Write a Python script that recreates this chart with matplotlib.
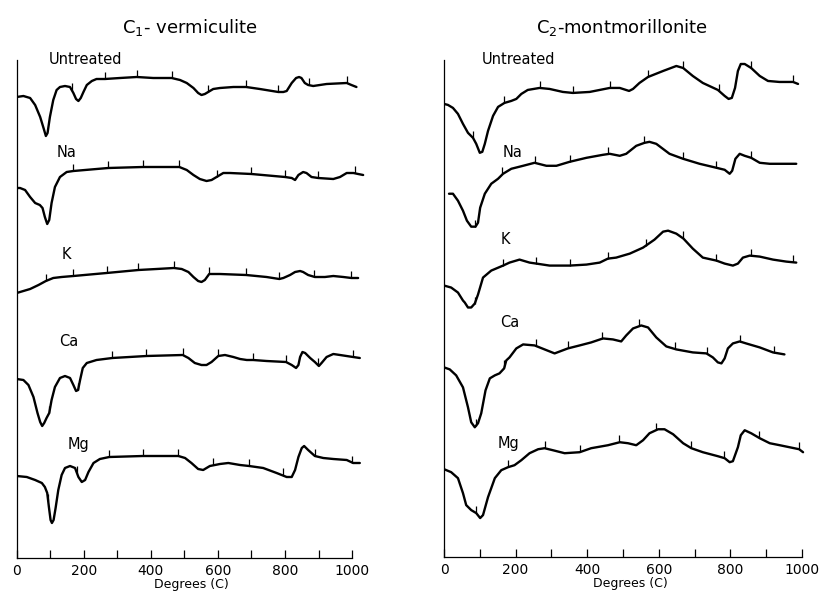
import matplotlib
matplotlib.use("Agg")
import matplotlib.pyplot as plt
import numpy as np

# DTA curves: temperature (C) and deflection (arbitrary units)
verm_untreated_t = [0, 20, 40, 55, 70, 80, 87, 92, 99, 109, 119, 129, 144, 159, 169, 177, 184, 191, 199, 209, 224, 238, 263, 308, 358, 407, 462, 487, 507, 527, 541, 551, 561, 571, 586, 606, 646, 684, 725, 780, 795, 805, 820, 833, 842, 849, 859, 869, 884, 924, 984, 998, 1013]
verm_untreated_y = [461, 462, 460, 453, 441, 430, 422, 425, 441, 458, 468, 471, 472, 471, 465, 459, 457, 460, 466, 473, 477, 479, 479, 480, 481, 480, 480, 478, 475, 470, 465, 463, 464, 466, 469, 470, 471, 471, 469, 466, 466, 467, 475, 480, 481, 480, 475, 473, 472, 474, 475, 473, 471]
verm_na_t = [0, 10, 25, 40, 55, 69, 77, 84, 91, 97, 104, 114, 129, 149, 169, 273, 376, 485, 507, 527, 546, 566, 581, 596, 616, 636, 700, 800, 820, 830, 840, 854, 864, 879, 899, 944, 964, 984, 1004, 1018, 1033]
verm_na_y = [370, 370, 368, 361, 355, 353, 350, 341, 334, 338, 355, 371, 381, 386, 387, 390, 391, 391, 388, 383, 379, 377, 378, 381, 385, 385, 384, 381, 380, 378, 383, 386, 385, 381, 380, 379, 381, 385, 385, 384, 383]
verm_k_t = [0, 10, 40, 65, 87, 109, 134, 169, 268, 363, 417, 469, 492, 512, 527, 541, 551, 561, 574, 606, 684, 745, 783, 795, 815, 830, 845, 854, 869, 889, 919, 944, 974, 998, 1018]
verm_k_y = [265, 266, 269, 273, 277, 280, 281, 282, 285, 288, 289, 290, 289, 286, 281, 277, 276, 278, 284, 284, 283, 281, 279, 280, 283, 286, 287, 286, 283, 281, 281, 282, 281, 280, 280]
verm_ca_t = [0, 20, 35, 50, 62, 70, 76, 82, 89, 97, 104, 114, 129, 144, 159, 169, 177, 183, 189, 197, 209, 238, 285, 387, 495, 512, 531, 551, 566, 581, 601, 621, 646, 666, 686, 705, 745, 803, 820, 833, 840, 845, 852, 860, 875, 889, 901, 909, 924, 944, 964, 1003, 1023]
verm_ca_y = [179, 178, 173, 161, 145, 136, 132, 135, 140, 145, 158, 171, 180, 182, 180, 173, 167, 168, 178, 190, 195, 198, 200, 202, 203, 200, 195, 193, 193, 196, 202, 203, 201, 199, 198, 198, 197, 196, 193, 190, 193, 201, 206, 205, 200, 196, 192, 195, 201, 204, 203, 201, 200]
verm_mg_t = [0, 30, 55, 75, 84, 91, 96, 101, 105, 110, 116, 124, 134, 144, 159, 174, 184, 194, 204, 214, 229, 248, 276, 376, 482, 502, 521, 541, 556, 576, 606, 631, 666, 693, 735, 775, 805, 820, 830, 840, 850, 857, 869, 889, 914, 944, 984, 1003, 1023]
verm_mg_y = [82, 81, 78, 75, 71, 65, 51, 38, 35, 38, 50, 68, 83, 90, 92, 90, 81, 76, 78, 86, 95, 99, 101, 102, 102, 100, 95, 89, 88, 92, 94, 95, 93, 92, 90, 85, 81, 81, 88, 101, 110, 112, 108, 102, 100, 99, 98, 95, 95]

mont_untreated_t = [0, 11, 25, 39, 53, 67, 81, 90, 100, 107, 114, 123, 137, 151, 169, 188, 202, 216, 234, 267, 295, 332, 360, 407, 463, 491, 517, 528, 546, 570, 612, 649, 668, 695, 723, 765, 784, 795, 804, 813, 821, 829, 840, 858, 882, 905, 937, 975, 989]
mont_untreated_y = [454, 453, 450, 444, 434, 425, 420, 414, 405, 406, 414, 427, 442, 451, 455, 457, 459, 464, 468, 470, 469, 466, 465, 466, 470, 470, 467, 469, 475, 481, 487, 492, 490, 482, 475, 468, 462, 459, 460, 470, 487, 494, 494, 490, 482, 477, 476, 476, 474]
mont_na_t = [14, 25, 39, 53, 64, 76, 88, 95, 101, 114, 132, 151, 165, 188, 221, 253, 286, 314, 351, 398, 444, 463, 491, 509, 537, 560, 574, 593, 630, 668, 714, 761, 784, 798, 805, 814, 826, 840, 858, 882, 910, 956, 984]
mont_na_y = [364, 364, 357, 347, 337, 331, 331, 335, 350, 364, 374, 379, 384, 389, 392, 395, 392, 392, 396, 400, 403, 404, 402, 404, 412, 415, 416, 414, 404, 399, 394, 390, 388, 384, 387, 399, 404, 402, 400, 395, 394, 394, 394]
mont_k_t = [0, 20, 39, 53, 58, 67, 76, 86, 95, 109, 132, 165, 183, 211, 239, 258, 295, 351, 398, 435, 458, 481, 519, 556, 588, 612, 626, 649, 669, 695, 723, 761, 784, 807, 821, 835, 854, 882, 919, 956, 984]
mont_k_y = [272, 270, 265, 257, 255, 250, 250, 254, 263, 280, 287, 292, 295, 298, 295, 294, 292, 292, 293, 295, 299, 300, 304, 310, 318, 326, 327, 324, 319, 309, 300, 297, 294, 292, 294, 300, 302, 301, 298, 296, 295]
mont_ca_t = [0, 16, 34, 53, 67, 76, 86, 95, 104, 116, 128, 142, 155, 168, 174, 183, 202, 221, 253, 281, 309, 346, 379, 411, 444, 472, 495, 509, 528, 551, 570, 593, 621, 649, 695, 733, 751, 765, 775, 784, 793, 807, 826, 844, 882, 919, 951]
mont_ca_y = [190, 188, 182, 170, 150, 135, 130, 134, 144, 167, 179, 182, 184, 189, 197, 200, 209, 213, 212, 208, 204, 209, 212, 215, 219, 218, 216, 222, 229, 232, 230, 220, 211, 208, 205, 204, 200, 195, 194, 199, 209, 214, 216, 214, 210, 205, 203]
mont_mg_t = [0, 20, 39, 53, 62, 76, 90, 101, 109, 123, 142, 160, 179, 197, 216, 239, 263, 281, 304, 337, 379, 411, 458, 491, 514, 537, 556, 574, 598, 616, 640, 668, 691, 723, 765, 784, 798, 807, 821, 829, 840, 858, 882, 910, 938, 965, 992, 1003]
mont_mg_y = [88, 85, 79, 64, 52, 47, 44, 39, 42, 60, 79, 87, 90, 92, 97, 104, 108, 109, 107, 104, 105, 109, 112, 115, 114, 112, 117, 124, 128, 128, 123, 114, 109, 105, 101, 99, 95, 96, 110, 122, 127, 124, 119, 114, 112, 110, 108, 105]

# thermocouple marks along each trace (C)
verm_marks = [
    [164, 263, 358, 462, 571, 684, 780, 873, 984],
    [169, 273, 376, 485, 596, 700, 800, 899, 1008],
    [87, 169, 268, 363, 469, 574, 684, 783, 886, 998],
    [97, 182, 285, 387, 495, 601, 705, 803, 899, 1003],
    [94, 179, 276, 376, 482, 584, 693, 793, 889, 1001],
]
mont_marks = [
    [81, 168, 267, 360, 463, 570, 669, 768, 858, 975],
    [86, 163, 253, 351, 458, 560, 668, 761, 858],
    [86, 165, 258, 351, 458, 563, 668, 761, 858, 975],
    [88, 169, 256, 346, 442, 546, 646, 734, 828, 922],
    [90, 179, 281, 379, 489, 591, 691, 782, 880, 992],
]

treatments = ["Untreated", "Na", "K", "Ca", "Mg"]
verm_label_pos = [(96, 499), (120, 406), (135, 304), (126, 216), (153, 113)]
mont_label_pos = [(106, 499), (165, 405), (159, 318), (156, 235), (151, 114)]

verm = [(verm_untreated_t, verm_untreated_y), (verm_na_t, verm_na_y), (verm_k_t, verm_k_y),
        (verm_ca_t, verm_ca_y), (verm_mg_t, verm_mg_y)]
mont = [(mont_untreated_t, mont_untreated_y), (mont_na_t, mont_na_y), (mont_k_t, mont_k_y),
        (mont_ca_t, mont_ca_y), (mont_mg_t, mont_mg_y)]

fig = plt.figure(figsize=(8.21, 5.95), dpi=100)
ax1 = fig.add_axes([16.7 / 821, 37 / 595, 348.8 / 821, 498 / 595])
ax2 = fig.add_axes([444 / 821, 38 / 595, 372.3 / 821, 497 / 595])


def draw_panel(ax, curves, marks, label_pos, title, title_x):
    for (t, y), m, name, (lx, ly) in zip(curves, marks, treatments, label_pos):
        ax.plot(t, y, color="black", lw=1.7, solid_capstyle="round", solid_joinstyle="round")
        base = np.interp(m, t, y)
        ax.vlines(m, base, base + 7, color="black", lw=0.9)
        ax.text(lx, ly, name, fontsize=10.5, ha="left", va="center")
    ax.set_xlim(0, 1040)
    ax.set_ylim(0, 498)
    for s in ["top", "right"]:
        ax.spines[s].set_visible(False)
    ax.spines["bottom"].set_bounds(0, 1000)
    ax.spines["left"].set_linewidth(0.9)
    ax.spines["bottom"].set_linewidth(0.9)
    ax.set_yticks([])
    ax.set_xticks(range(0, 1001, 200))
    ax.set_xticks(range(100, 1001, 200), minor=True)
    ax.tick_params(axis="x", which="both", direction="in", length=6, width=0.9, pad=4, labelsize=10)
    ax.set_xlabel("Degrees (C)", fontsize=9, labelpad=0)
    fig.text(title_x, 1 - 27 / 595, title, fontsize=13, ha="center", va="center")


draw_panel(ax1, verm, verm_marks, verm_label_pos, r"C$_1$- vermiculite", 190 / 821)
draw_panel(ax2, mont, mont_marks, mont_label_pos, r"C$_2$-montmorillonite", 622 / 821)

fig.savefig("out.png", dpi=100)
